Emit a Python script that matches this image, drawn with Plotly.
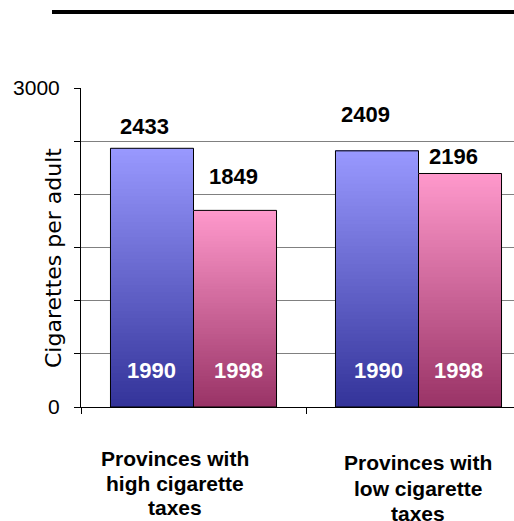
import plotly.graph_objects as go

# ---- data ----
categories = ["high", "low"]
category_labels = [["Provinces with", "high cigarette", "taxes"],
                   ["Provinces with", "low cigarette", "taxes"]]
years = ["1990", "1998"]
values_1990 = [2433, 2409]
values_1998 = [1849, 2196]
y_tick_vals = [0, 500, 1000, 1500, 2000, 2500, 3000]
y_tick_text = ["0", "", "", "", "", "", "3000"]
y_title = "Cigarettes per adult"

# ---- style ----
W, H = 514, 521
ML, MR, MT, MB = 81, 0, 88, 114
BAR_W = 0.369
GRAD = {"1990": ((0x33, 0x33, 0x99), (0x99, 0x99, 0xFF)),
        "1998": ((0x99, 0x33, 0x66), (0xFF, 0x99, 0xCC))}
NSEG = 70
BOLD = "Arial, 'Liberation Sans', sans-serif"
# pixel adjustments of value labels (per category, per year)
VAL_DX = [[-7.5, -1.5], [-11.5, -6.5]]
VAL_DY = [[22, 34], [36, 16.5]]
YEAR_DX = [[0, 3.5], [2, -2]]
YEAR_DY = 37
CAT_DX = [-18.5, -1]
CAT_LINE_DY = [[-51, -76, -100], [-55, -81, -106]]

series = {"1990": values_1990, "1998": values_1998}
offsets = {"1990": -BAR_W, "1998": 0.0}


def mix(c0, c1, t):
    return "rgb(%d,%d,%d)" % tuple(round(a + (b - a) * t) for a, b in zip(c0, c1))


fig = go.Figure()
for yr in years:
    vals = series[yr]
    c0, c1 = GRAD[yr]
    for i in range(NSEG):
        base = [v * i / NSEG for v in vals]
        fig.add_trace(go.Bar(
            x=categories, y=[v - b for v, b in zip(vals, base)], base=base,
            width=BAR_W, offset=offsets[yr],
            marker=dict(color=mix(c0, c1, (i + 0.5) / NSEG), line=dict(width=0)),
            showlegend=False, hoverinfo="skip"))
    fig.add_trace(go.Bar(
        x=categories, y=vals, width=BAR_W, offset=offsets[yr],
        marker=dict(color="rgba(0,0,0,0)", line=dict(color="black", width=1)),
        showlegend=False, hoverinfo="skip"))

ann = []
for ci, cat in enumerate(categories):
    for yi, yr in enumerate(years):
        center_px = (offsets[yr] + BAR_W / 2) * 225
        ann.append(dict(x=cat, y=series[yr][ci], xref="x", yref="y",
                        text="<b>%d</b>" % series[yr][ci], showarrow=False,
                        xanchor="center", yanchor="middle",
                        xshift=center_px + VAL_DX[ci][yi], yshift=VAL_DY[ci][yi],
                        font=dict(family=BOLD, size=22, color="black")))
        ann.append(dict(x=cat, y=0, xref="x", yref="y",
                        text="<b>%s</b>" % yr, showarrow=False,
                        xanchor="center", yanchor="middle",
                        xshift=center_px + YEAR_DX[ci][yi], yshift=YEAR_DY,
                        font=dict(family=BOLD, size=22, color="white")))
    for li, line in enumerate(category_labels[ci]):
        ann.append(dict(x=cat, y=0, xref="x", yref="y",
                        text="<b>%s</b>" % line, showarrow=False,
                        xanchor="center", yanchor="middle", align="center",
                        xshift=CAT_DX[ci], yshift=CAT_LINE_DY[ci][li],
                        font=dict(family=BOLD, size=21, color="black")))

ann.append(dict(x=(53 - ML) / (W - ML - MR), y=(H - MB - 258) / (H - MT - MB),
                xref="paper", yref="paper", text=y_title, textangle=-90,
                showarrow=False, xanchor="center", yanchor="middle",
                font=dict(family="'DejaVu Sans', sans-serif", size=22, color="black")))

fig.update_layout(
    width=W, height=H, margin=dict(l=ML, r=MR, t=MT, b=MB, pad=0),
    paper_bgcolor="white", plot_bgcolor="white",
    barmode="overlay", showlegend=False,
    annotations=ann,
    shapes=[dict(type="line", xref="paper", yref="paper",
                 x0=(52 - ML) / (W - ML - MR), x1=1.0,
                 y0=(H - MB - 12) / (H - MT - MB), y1=(H - MB - 12) / (H - MT - MB),
                 line=dict(color="black", width=4))],
    xaxis=dict(type="category", range=[-0.5, -0.5 + (W - ML - MR) / 225],
               showline=True, linecolor="black", linewidth=1,
               ticks="outside", ticklen=6, tickcolor="black", tickson="boundaries",
               showticklabels=False, showgrid=False, zeroline=False, fixedrange=True),
    yaxis=dict(range=[0, 3000], tickvals=y_tick_vals, ticktext=y_tick_text,
               showline=True, linecolor="black", linewidth=1,
               ticks="outside", ticklen=6, tickcolor="black",
               showgrid=True, gridcolor="#808080", gridwidth=1, zeroline=False,
               tickfont=dict(family="Arial, 'Liberation Sans', sans-serif", size=21, color="black"),
               ticklabelstandoff=10, fixedrange=True),
)

fig.write_html("out.html")
